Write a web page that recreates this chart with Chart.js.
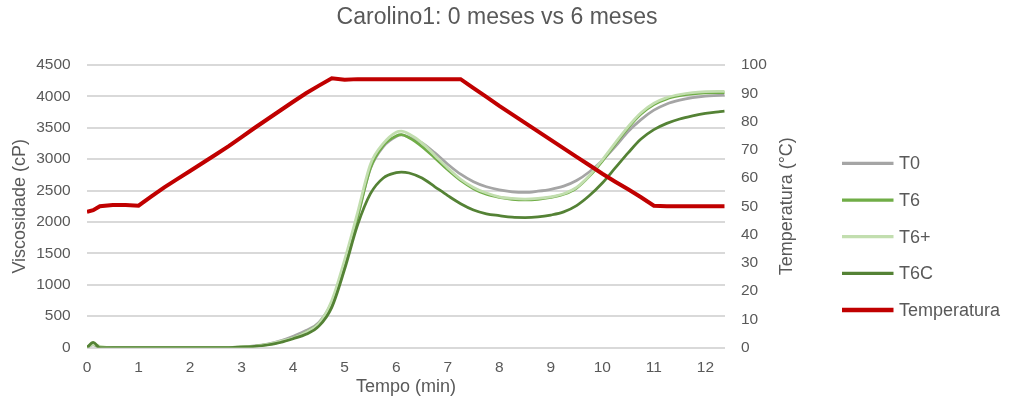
<!DOCTYPE html>
<html>
<head>
<meta charset="utf-8">
<script src="https://cdn.jsdelivr.net/npm/chart.js@4/dist/chart.umd.min.js"></script>
<style>
  body { margin: 0; background: #fff; }
  #wrap { width: 1010px; height: 410px; }
</style>
</head>
<body>
<div id="wrap"><canvas id="rvaChart" width="1010" height="410"></canvas></div>
<script>
// Tempo (min) - common x for every curve
const tempo = [0, 0.12, 0.25, 0.5, 0.75, 1, 1.25, 1.5, 1.75, 2, 2.25, 2.5, 2.75,
  3, 3.25, 3.5, 3.75, 4, 4.25, 4.5, 4.75, 5, 5.25, 5.5, 5.75, 6, 6.1, 6.25, 6.5, 6.75,
  7, 7.25, 7.5, 7.75, 8, 8.25, 8.5, 8.75, 9, 9.25, 9.5, 9.75, 10, 10.25, 10.5, 10.75,
  11, 11.25, 11.5, 11.75, 12, 12.25, 12.37];

// Viscosidade (cP)
const t0 = [0, 40, 0, 0, 0, 0, 0, 0, 0, 0, 0, 0, 0,
  10, 25, 55, 105, 180, 270, 400, 720, 1330, 2080, 2850, 3200, 3360, 3385, 3350, 3260, 3100,
  2920, 2760, 2640, 2560, 2510, 2480, 2470, 2490, 2520, 2570, 2660, 2800, 2980, 3200, 3440, 3630,
  3780, 3880, 3940, 3980, 4005, 4015, 4020];
const t6 = [0, 60, 0, 0, 0, 0, 0, 0, 0, 0, 0, 0, 0,
  8, 20, 45, 90, 150, 240, 380, 700, 1320, 2080, 2860, 3220, 3370, 3390, 3340, 3200, 3020,
  2830, 2660, 2530, 2440, 2390, 2360, 2350, 2360, 2390, 2440, 2540, 2730, 2970, 3240, 3500, 3720,
  3870, 3960, 4010, 4040, 4055, 4058, 4058];
const t6mais = [0, 50, 20, 0, 0, 0, 0, 0, 0, 0, 0, 0, 0,
  8, 20, 50, 100, 150, 240, 380, 750, 1400, 2150, 2920, 3250, 3430, 3445, 3400, 3260, 3060,
  2860, 2680, 2550, 2460, 2400, 2375, 2365, 2375, 2400, 2450, 2550, 2740, 2990, 3260, 3520, 3740,
  3890, 3980, 4030, 4060, 4075, 4080, 4080];
const t6c = [0, 80, 0, 0, 0, 0, 0, 0, 0, 0, 0, 0, 0,
  5, 18, 40, 80, 140, 210, 340, 640, 1250, 1950, 2450, 2700, 2785, 2795, 2780, 2700, 2560,
  2420, 2290, 2190, 2130, 2100, 2075, 2070, 2080, 2110, 2160, 2260, 2420, 2620, 2860, 3100, 3320,
  3470, 3570, 3640, 3690, 3730, 3755, 3765];

// Temperatura (°C)
const temperatura = [48, 48.6, 50, 50.4, 50.4, 50.2, 53.5, 56.7, 59.6, 62.5, 65.4, 68.3, 71.3,
  74.5, 77.7, 80.8, 83.9, 87, 90, 92.7, 95.3, 94.8, 95, 95, 95, 95, 95, 95, 95, 95,
  95, 95, 91.8, 88.7, 85.5, 82.5, 79.5, 76.5, 73.5, 70.5, 67.5, 64.5, 61.5, 58.7, 56, 53.2,
  50.2, 50, 50, 50, 50, 50, 50];

const FONT = '"Liberation Sans", Arial, sans-serif';
const TXT = '#595959';

const pts = arr => tempo.map((t, i) => ({ x: t, y: arr[i] }));

function curve(label, arr, color, order) {
    return {
        label: label,
        data: pts(arr),
        borderColor: color,
        backgroundColor: color,
        borderWidth: 2.75,
        pointRadius: 0,
        cubicInterpolationMode: 'monotone',
        yAxisID: 'y',
        order: order
    };
}

const datasets = [
    curve('T0', t0, '#a5a5a5', 4),
    curve('T6', t6, '#70ad47', 3),
    curve('T6+', t6mais, '#c2deaf', 2),
    curve('T6C', t6c, '#548235', 1),
    {
        label: 'Temperatura',
        data: pts(temperatura),
        borderColor: '#c00000',
        backgroundColor: '#c00000',
        borderWidth: 4,
        pointRadius: 0,
        tension: 0,
        yAxisID: 'y1',
        order: 0
    }
];

// right axis title (reads bottom-to-top like Excel) + legend on the right
const extras = {
    id: 'extras',
    afterDraw(chart) {
        const ctx = chart.ctx;
        const area = chart.chartArea;
        ctx.save();
        ctx.fillStyle = TXT;
        ctx.font = '18px ' + FONT;
        ctx.textAlign = 'center';
        ctx.textBaseline = 'middle';
        ctx.translate(area.right + 62.5, (area.top + area.bottom) / 2);
        ctx.rotate(-Math.PI / 2);
        ctx.fillText('Temperatura (°C)', 0, 0);
        ctx.restore();

        ctx.save();
        ctx.font = '18px ' + FONT;
        ctx.textBaseline = 'middle';
        ctx.textAlign = 'left';
        chart.data.datasets.forEach((ds, i) => {
            const y = 163.3 + i * 36.7;
            ctx.strokeStyle = ds.borderColor;
            ctx.lineWidth = ds.borderWidth + 0.5;
            ctx.beginPath();
            ctx.moveTo(842, y);
            ctx.lineTo(893.5, y);
            ctx.stroke();
            ctx.fillStyle = TXT;
            ctx.fillText(ds.label, 899, y + 1);
        });
        ctx.restore();
    }
};

new Chart(document.getElementById('rvaChart'), {
    type: 'line',
    data: { datasets: datasets },
    plugins: [extras],
    options: {
        responsive: false,
        animation: false,
        devicePixelRatio: 1,
        layout: { padding: { left: 0, right: 16, top: 0, bottom: 8 } },
        plugins: {
            legend: { display: false },
            tooltip: { enabled: false },
            title: {
                display: true,
                text: 'Carolino1: 0 meses vs 6 meses',
                color: TXT,
                font: { family: FONT, size: 23, weight: 'normal' },
                padding: { top: 4, bottom: 33.4 }
            }
        },
        scales: {
            x: {
                type: 'linear',
                min: 0,
                max: 12.38,
                grid: { display: false, drawTicks: false },
                border: { display: false },
                ticks: {
                    stepSize: 1,
                    includeBounds: false,
                    padding: 10.7,
                    color: TXT,
                    font: { family: FONT, size: 15.5 },
                    callback: v => String(v)
                },
                title: {
                    display: true,
                    text: 'Tempo (min)',
                    color: TXT,
                    font: { family: FONT, size: 18 },
                    padding: { top: 0, bottom: 4.2 }
                },
                afterFit(scale) { scale.height = 54.5; }
            },
            y: {
                position: 'left',
                min: 0,
                max: 4500,
                grid: { color: '#d9d9d9', lineWidth: 2, drawTicks: false },
                border: { display: false },
                ticks: {
                    stepSize: 500,
                    padding: 16.3,
                    color: TXT,
                    font: { family: FONT, size: 15.5 },
                    callback: v => String(v)
                },
                title: {
                    display: true,
                    text: 'Viscosidade (cP)',
                    color: TXT,
                    font: { family: FONT, size: 18 },
                    padding: { top: 9.2, bottom: 0 }
                },
                afterFit(scale) { scale.width = 87; }
            },
            y1: {
                position: 'right',
                min: 0,
                max: 100,
                grid: { display: false, drawTicks: false },
                border: { display: false },
                ticks: {
                    stepSize: 10,
                    padding: 16,
                    color: TXT,
                    font: { family: FONT, size: 15.5 },
                    callback: v => String(v)
                },
                afterFit(scale) { scale.width = 269; }
            }
        }
    }
});
</script>
</body>
</html>
